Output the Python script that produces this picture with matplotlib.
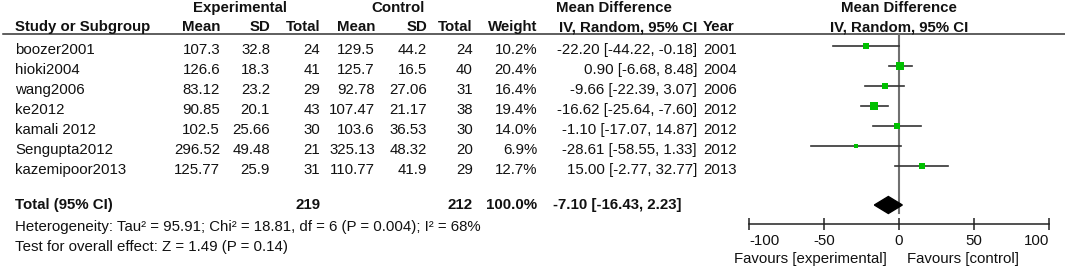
import matplotlib

matplotlib.use("Agg")

import matplotlib.pyplot as plt

plt.rcParams["font.family"] = ["Liberation Sans", "DejaVu Sans"]

studies = ["boozer2001", "hioki2004", "wang2006", "ke2012", "kamali 2012", "Sengupta2012", "kazemipoor2013"]
exp_mean = ["107.3", "126.6", "83.12", "90.85", "102.5", "296.52", "125.77"]
exp_sd = ["32.8", "18.3", "23.2", "20.1", "25.66", "49.48", "25.9"]
exp_n = [24, 41, 29, 43, 30, 21, 31]
ctrl_mean = ["129.5", "125.7", "92.78", "107.47", "103.6", "325.13", "110.77"]
ctrl_sd = ["44.2", "16.5", "27.06", "21.17", "36.53", "48.32", "41.9"]
ctrl_n = [24, 40, 31, 38, 30, 20, 29]
weights = [10.2, 20.4, 16.4, 19.4, 14.0, 6.9, 12.7]
md = [-22.20, 0.90, -9.66, -16.62, -1.10, -28.61, 15.00]
ci_lo = [-44.22, -6.68, -22.39, -25.64, -17.07, -58.55, -2.77]
ci_hi = [-0.18, 8.48, 3.07, -7.60, 14.87, 1.33, 32.77]
years = [2001, 2004, 2006, 2012, 2012, 2012, 2013]

total_exp = 219
total_ctrl = 212
pooled = (-7.10, -16.43, 2.23)
heterogeneity = "Heterogeneity: Tau² = 95.91; Chi² = 18.81, df = 6 (P = 0.004); I² = 68%"
overall = "Test for overall effect: Z = 1.49 (P = 0.14)"
xticks = [-100, -50, 0, 50, 100]

FS = 10.8
TXT = "#111111"
GREEN = "#00c000"

fig = plt.figure(figsize=(10.65, 2.69), dpi=100)
ax = fig.add_axes([0, 0, 1, 1])
ax.set_xlim(0, 1065)
ax.set_ylim(269, 0)
ax.axis("off")


def put(x, y, s, ha="left", bold=False):
    ax.text(x, y, s, ha=ha, va="center", fontsize=FS, color=TXT,
            fontweight="bold" if bold else "normal")


# header
put(240, 8, "Experimental", "center", True)
put(398, 8, "Control", "center", True)
put(614, 8, "Mean Difference", "center", True)
put(899, 8, "Mean Difference", "center", True)
put(15, 27, "Study or Subgroup", bold=True)
for x, s in [(220, "Mean"), (270, "SD"), (320, "Total"), (375, "Mean"),
             (427, "SD"), (473, "Total"), (537, "Weight"), (697, "IV, Random, 95% CI")]:
    put(x, 27, s, "right", True)
put(703, 27, "Year", bold=True)
put(899, 27, "IV, Random, 95% CI", "center", True)
ax.plot([3, 1065], [33.5, 33.5], color="#333333", lw=1.1)

row_y = [50 + 20 * i for i in range(len(studies))]
for i, y in enumerate(row_y):
    put(15, y, studies[i])
    put(220, y, exp_mean[i], "right")
    put(270, y, exp_sd[i], "right")
    put(320, y, str(exp_n[i]), "right")
    put(375, y, ctrl_mean[i], "right")
    put(427, y, ctrl_sd[i], "right")
    put(473, y, str(ctrl_n[i]), "right")
    put(537, y, f"{weights[i]:.1f}%", "right")
    put(697, y, f"{md[i]:.2f} [{ci_lo[i]:.2f}, {ci_hi[i]:.2f}]", "right")
    put(703, y, str(years[i]))

tot_y = 205
put(15, tot_y, "Total (95% CI)", bold=True)
put(320, tot_y, str(total_exp), "right", True)
put(473, tot_y, str(total_ctrl), "right", True)
put(537, tot_y, f"{sum(weights):.1f}%", "right", True)
put(553, tot_y, f"{pooled[0]:.2f} [{pooled[1]:.2f}, {pooled[2]:.2f}]", bold=True)
put(15, 227, heterogeneity)
put(15, 247, overall)

# forest panel
axf = fig.add_axes([749 / 1065, 0, 300 / 1065, 1])
axf.set_xlim(xticks[0], xticks[-1])
axf.set_ylim(269, 0)
axf.patch.set_visible(False)
for side in ["top", "right", "left"]:
    axf.spines[side].set_visible(False)
axf.spines["bottom"].set_position(("data", 224))
axf.spines["bottom"].set_color("#222222")
axf.spines["bottom"].set_linewidth(1.1)
axf.set_yticks([])
axf.set_xticks(xticks)
axf.set_xticklabels([str(t) for t in xticks], fontsize=FS, color=TXT)
axf.tick_params(axis="x", direction="inout", length=8, width=1.1, color="#222222", pad=3)
labels = axf.get_xticklabels()
labels[0].set_ha("left")
labels[-1].set_ha("right")

axf.plot([0, 0], [33.5, 213], color="#707070", lw=1.5, zorder=1)
for i, y in enumerate(row_y):
    my = y - 4
    axf.plot([ci_lo[i], ci_hi[i]], [my, my], color="#333333", lw=1.2, zorder=2)
    axf.scatter([md[i]], [my], marker="s", s=weights[i] * 1.5, color=GREEN,
                linewidths=0, zorder=3)

est, lo, hi = pooled
axf.fill([lo, est, hi, est], [tot_y, tot_y - 8.5, tot_y, tot_y + 8.5],
         color="black", zorder=3)

axf.text(-8, 259, "Favours [experimental]", ha="right", va="center", fontsize=FS, color=TXT)
axf.text(5.3, 259, "Favours [control]", ha="left", va="center", fontsize=FS, color=TXT)

fig.savefig("out.png", dpi=100)
